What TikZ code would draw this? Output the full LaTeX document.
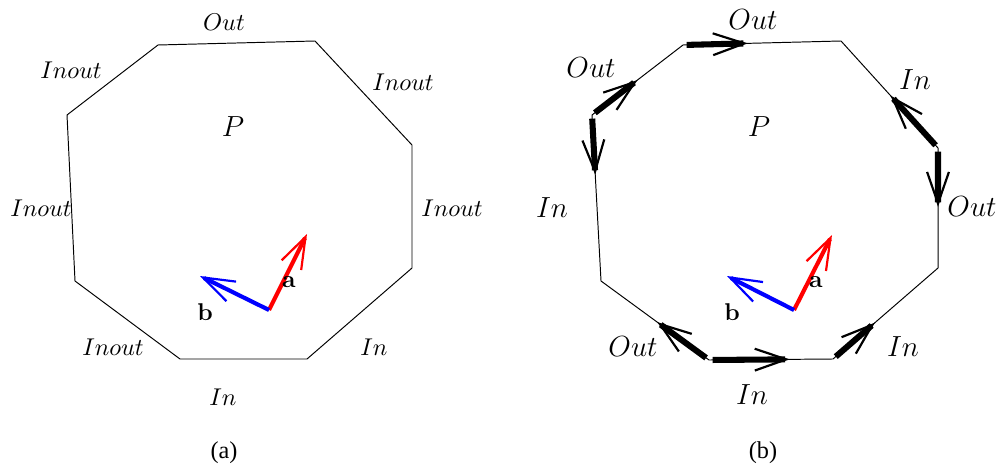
\documentclass[tikz,border=0pt]{standalone}
\usepackage{fontspec}
\newfontfamily\capfont{Liberation Serif}
\usetikzlibrary{arrows.meta, calc}

\begin{document}
\begin{tikzpicture}[
    x=0.0145cm, y=-0.0145cm,
    edge/.style={line width=0.4pt},
    flow/.style={line width=2.5pt, shorten <=1.5pt, -{Straight Barb[length=13pt, width=9pt, line width=0.9pt]}},
    vec/.style={line width=1.7pt, -{Straight Barb[length=13pt, width=9pt, line width=0.9pt]}},
    vlabel/.style={font=\bfseries},
    blab/.style={font=\fontsize{11.5}{14}\selectfont},
    subcap/.style={font=\capfont\fontsize{10}{12}\selectfont}
]
    \useasboundingbox (0,0) rectangle (1000,467);

    % (a) polygon with its edge types
    \coordinate (a1) at (158,45);
    \coordinate (a2) at (315,41);
    \coordinate (a3) at (412,145);
    \coordinate (a4) at (412,268);
    \coordinate (a5) at (307,359);
    \coordinate (a6) at (180,359);
    \coordinate (a7) at (75,281);
    \coordinate (a8) at (67,115);
    \draw[edge] (a1) -- (a2) -- (a3) -- (a4) -- (a5) -- (a6) -- (a7) -- (a8) -- cycle;

    \node (aout) at (224,22) {$Out$};
    \node (anw) at (71,70) {$Inout$};
    \node (ane) at (403,82) {$Inout$};
    \node (aw) at (41,208) {$Inout$};
    \node (ae) at (452,208) {$Inout$};
    \node (asw) at (113,347) {$Inout$};
    \node (ase) at (374,347) {$In$};
    \node (as) at (223,397) {$In$};
    \node[font=\large] (aP) at (233,127) {$P$};

    % (a) directions
    \coordinate (ao) at (269,310);
    \coordinate (aa) at (307,234);
    \coordinate (ab) at (200,276);
    \draw[vec, red] (ao) -- (aa);
    \draw[vec, blue] (ao) -- (ab);
    \node[vlabel] (alabel) at (289,282) {a};
    \node[vlabel] (blabel) at (205,312) {b};
    \node[subcap] (acap) at (224,453) {(a)};

    % (b) polygon with flow arrows
    \coordinate (b1) at (683,45);
    \coordinate (b2) at (841,41);
    \coordinate (b3) at (938,148);
    \coordinate (b4) at (938,268);
    \coordinate (b5) at (833,359);
    \coordinate (b6) at (709,360);
    \coordinate (b7) at (601,281);
    \coordinate (b8) at (592,115);
    \draw[edge] (b1) -- (b2) -- (b3) -- (b4) -- (b5) -- (b6) -- (b7) -- (b8) -- cycle;

    \draw[flow] (b1) -- ($(b1)!0.41!(b2)$);
    \draw[flow] (b8) -- ($(b8)!0.5!(b1)$);
    \draw[flow] (b8) -- ($(b8)!0.36!(b7)$);
    \draw[flow] (b3) -- ($(b3)!0.49!(b2)$);
    \draw[flow] (b3) -- ($(b3)!0.49!(b4)$);
    \draw[flow] (b6) -- ($(b6)!0.48!(b7)$);
    \draw[flow] (b6) -- ($(b6)!0.65!(b5)$);
    \draw[flow] (b5) -- ($(b5)!0.4!(b4)$);

    \node[blab] (bout) at (753,20) {$Out$};
    \node[blab] (bnw) at (591,68) {$Out$};
    \node[blab] (bne) at (915,80) {$In$};
    \node[blab] (bw) at (552,208) {$In$};
    \node[blab] (be) at (972,207) {$Out$};
    \node[blab] (bsw) at (633,347) {$Out$};
    \node[blab] (bse) at (903,347) {$In$};
    \node[blab] (bs) at (752,395) {$In$};
    \node[font=\large] (bP) at (759,127) {$P$};

    % (b) directions
    \coordinate (bo) at (794,310);
    \coordinate (ba) at (832,235);
    \coordinate (bb) at (727,276);
    \draw[vec, red] (bo) -- (ba);
    \draw[vec, blue] (bo) -- (bb);
    \node[vlabel] (balabel) at (816,282) {a};
    \node[vlabel] (bblabel) at (732,312) {b};
    \node[subcap] (bcap) at (763,453) {(b)};
\end{tikzpicture}
\end{document}
